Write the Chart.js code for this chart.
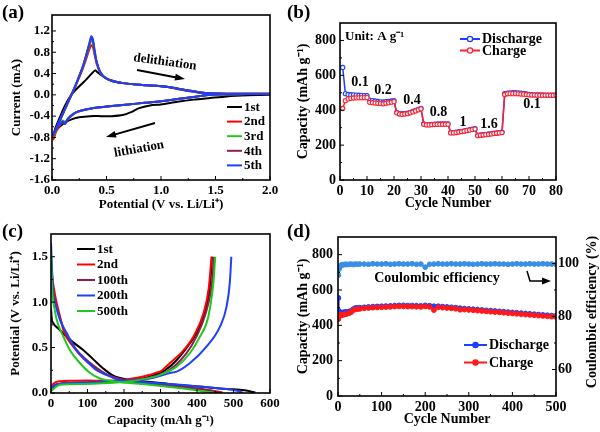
<!DOCTYPE html>
<html><head><meta charset="utf-8">
<script src="https://cdn.jsdelivr.net/npm/chart.js@4.4.1/dist/chart.umd.min.js"></script>
<style>
html,body{margin:0;padding:0;background:#fff;}
#wrap{position:relative;width:600px;height:432px;overflow:hidden;background:#fff;}
#wrap canvas{position:absolute;left:0;top:0;}
.pl{position:absolute;font:bold 19px "Liberation Serif","Times New Roman",serif;color:#000;line-height:20px;}
</style></head><body>
<div id="wrap">
<canvas id="ca" width="600" height="432"></canvas>
<canvas id="cb" width="600" height="432"></canvas>
<canvas id="cc" width="600" height="432"></canvas>
<canvas id="cd" width="600" height="432"></canvas>
<div class="pl" style="left:2px;top:2px">(a)</div>
<div class="pl" style="left:287px;top:2px">(b)</div>
<div class="pl" style="left:2px;top:221px">(c)</div>
<div class="pl" style="left:287px;top:221px">(d)</div>
</div>
<script>
// ---------------- DATA ----------------
// (a) cyclic voltammetry
const cvLabels = ['1st','2nd','3rd','4th','5th'];
const cvPot1 = [0.01,0.04,0.08,0.12,0.17,0.22,0.27,0.32,0.36,0.395,0.42,0.46,0.5,0.55,0.65,0.8,0.95,1.05,1.15,1.25,1.35,1.45,1.6,1.8,2.0,
  1.8,1.6,1.45,1.3,1.15,1.0,0.9,0.8,0.72,0.65,0.55,0.45,0.35,0.25,0.18,0.12,0.08,0.04,0.01];
const cvCur1 = [-0.76,-0.58,-0.38,-0.2,-0.02,0.1,0.2,0.3,0.39,0.46,0.42,0.36,0.31,0.27,0.22,0.19,0.17,0.15,0.11,0.07,0.04,0.02,0.01,0.0,0.0,
  -0.01,-0.03,-0.06,-0.09,-0.13,-0.18,-0.2,-0.25,-0.33,-0.38,-0.4,-0.4,-0.4,-0.42,-0.46,-0.52,-0.58,-0.66,-0.76];
const cvPot = [0.01,0.04,0.08,0.12,0.16,0.2,0.24,0.28,0.31,0.34,0.36,0.375,0.39,0.41,0.44,0.48,0.55,0.65,0.8,0.95,1.05,1.15,1.25,1.35,1.45,1.6,1.8,2.0,
  1.8,1.6,1.45,1.3,1.15,1.0,0.85,0.7,0.55,0.42,0.3,0.22,0.17,0.14,0.12,0.1,0.08,0.05,0.03,0.01];
const cvCur2 = [-0.85,-0.68,-0.46,-0.27,-0.09,0.09,0.28,0.48,0.65,0.84,0.93,0.9,0.76,0.58,0.43,0.33,0.26,0.22,0.19,0.17,0.15,0.12,0.08,0.05,0.03,0.02,0.02,0.02,
  0.015,0.01,0.0,-0.04,-0.08,-0.12,-0.15,-0.18,-0.21,-0.24,-0.28,-0.33,-0.41,-0.47,-0.52,-0.5,-0.55,-0.65,-0.72,-0.85];
const cvCur3 = [-0.8,-0.65,-0.45,-0.27,-0.08,0.1,0.3,0.5,0.7,0.9,1.03,0.98,0.8,0.6,0.43,0.33,0.26,0.22,0.19,0.17,0.15,0.12,0.08,0.05,0.03,0.02,0.02,0.02,
  0.015,0.01,0.0,-0.04,-0.08,-0.12,-0.15,-0.18,-0.21,-0.24,-0.28,-0.33,-0.4,-0.46,-0.52,-0.48,-0.53,-0.62,-0.7,-0.8];
const cvCur4 = [-0.78,-0.63,-0.44,-0.26,-0.08,0.1,0.3,0.51,0.71,0.93,1.07,1.02,0.83,0.61,0.44,0.33,0.26,0.22,0.19,0.17,0.15,0.12,0.08,0.05,0.03,0.02,0.02,0.02,
  0.015,0.01,0.0,-0.04,-0.08,-0.12,-0.15,-0.18,-0.21,-0.24,-0.28,-0.33,-0.4,-0.47,-0.54,-0.5,-0.54,-0.61,-0.68,-0.78];
const cvCur5 = [-0.76,-0.62,-0.43,-0.26,-0.08,0.1,0.3,0.52,0.72,0.95,1.1,1.05,0.85,0.62,0.44,0.33,0.26,0.22,0.19,0.17,0.15,0.12,0.08,0.05,0.03,0.02,0.02,0.02,
  0.015,0.01,0.0,-0.04,-0.08,-0.12,-0.15,-0.18,-0.21,-0.24,-0.28,-0.33,-0.4,-0.47,-0.55,-0.5,-0.53,-0.6,-0.66,-0.76];
const cvTicksX = [0,0.5,1.0,1.5,2.0];
const cvTicksY = [-1.6,-1.2,-0.8,-0.4,0,0.4,0.8,1.2];

// (b) rate performance
const rateCycles = [1,2,3,4,5,6,7,8,9,10,11,12,13,14,15,16,17,18,19,20,21,22,23,24,25,26,27,28,29,30,
  31,32,33,34,35,36,37,38,39,40,41,42,43,44,45,46,47,48,49,50,51,52,53,54,55,56,57,58,59,60,
  61,62,63,64,65,66,67,68,69,70,71,72,73,74,75,76,77,78,79,80];
const rateDischarge = [645,495,490,489,488,487,486,485,484,483, 458,455,453,450,448,447,449,451,453,455,
  388,381,380,381,383,388,393,399,405,411, 322,318,318,319,320,321,322,322,322,322,
  272,272,274,277,279,282,285,288,291,294, 256,258,260,262,264,266,268,270,272,274,
  495,498,500,501,501,500,498,496,493,490, 489,488,488,488,488,487,487,487,487,487];
const rateCharge = [410,455,465,468,470,471,471,472,472,472, 445,443,441,440,438,437,440,443,446,449,
  385,378,377,378,380,385,390,396,402,408, 320,316,316,317,318,319,320,320,320,320,
  270,270,272,275,277,280,283,286,289,292, 254,256,258,260,262,264,266,268,270,272,
  490,494,495,495,495,494,493,492,490,488, 487,487,486,486,486,486,486,486,486,486];
const rateLabels = ['0.1','0.2','0.4','0.8','1','1.6','0.1'];
const rateTicksX = [0,10,20,30,40,50,60,70,80];
const capTicksY = [0,200,400,600,800];

// (c) charge/discharge profiles
const gcLabels = ['1st','2nd','100th','200th','500th'];
const gc1DisCap = [0,2,6,20,40,60,89,116,143,171,207,250,300,360,420,480,530,560];
const gc1DisV   = [0.93,0.82,0.77,0.71,0.63,0.56,0.47,0.37,0.27,0.19,0.15,0.13,0.11,0.085,0.065,0.045,0.03,0.005];
const gc1ChgCap = [0,8,34,90,134,180,226,271,312,344,381,408,426,436,441];
const gc1ChgV   = [0.04,0.08,0.105,0.11,0.115,0.125,0.14,0.18,0.25,0.36,0.55,0.73,0.95,1.2,1.5];
const gc2DisCap = [0,3,8,15,25,34,61,89,116,143,180,220,271,320,363,420,450,470];
const gc2DisV   = [1.45,1.3,1.15,1.0,0.84,0.69,0.51,0.38,0.29,0.22,0.16,0.13,0.107,0.085,0.06,0.035,0.02,0.005];
const gc2ChgCap = [0,6,25,60,100,150,200,240,271,290,299,326,363,390,418,432,440];
const gc2ChgV   = [0.03,0.1,0.13,0.135,0.137,0.135,0.145,0.17,0.2,0.225,0.235,0.33,0.47,0.62,0.88,1.15,1.5];
const gc100DisCap = [0,3,8,15,25,40,65,90,120,150,190,240,290,350,400,440,462];
const gc100DisV   = [1.4,1.22,1.08,0.95,0.82,0.66,0.5,0.39,0.29,0.21,0.155,0.125,0.1,0.075,0.05,0.025,0.005];
const gc100ChgCap = [0,8,30,80,140,200,250,290,320,355,385,412,432,442,446];
const gc100ChgV   = [0.03,0.08,0.105,0.115,0.12,0.13,0.155,0.19,0.24,0.36,0.52,0.74,1.0,1.25,1.5];
const gc200DisCap = [0,3,6,12,25,43,70,98,125,152,189,235,299,363,436,500,525];
const gc200DisV   = [1.65,1.35,1.1,0.98,0.8,0.66,0.47,0.35,0.25,0.2,0.14,0.125,0.107,0.088,0.06,0.033,0.005];
const gc200ChgCap = [0,8,25,90,180,240,271,300,326,344,381,426,463,481,490,494];
const gc200ChgV   = [0.04,0.08,0.1,0.115,0.13,0.145,0.16,0.19,0.22,0.235,0.33,0.51,0.73,0.95,1.22,1.5];
const gc500DisCap = [0,2,5,10,16,34,52,79,107,134,180,230,271,320,363,400,426,445];
const gc500DisV   = [1.55,1.25,1.05,0.92,0.8,0.62,0.47,0.33,0.22,0.16,0.125,0.105,0.09,0.07,0.05,0.03,0.015,0.005];
const gc500ChgCap = [0,8,25,89,180,250,299,344,381,408,431,445,450];
const gc500ChgV   = [0.02,0.05,0.09,0.1,0.115,0.15,0.2,0.29,0.44,0.62,0.84,1.22,1.5];
const gcTicksX = [0,100,200,300,400,500,600];
const gcTicksY = [0,0.5,1.0,1.5];

// (d) long cycling
const longCycles = [1,2,3,4,5,6,8,10,12,15,18,20,25,30,35,40,45,50,
  60,70,80,90,100,110,120,130,140,150,160,170,180,190,200,210,220,230,240,250,
  260,270,280,290,300,310,320,330,340,350,360,370,380,390,400,410,420,430,440,450,
  460,470,480,490,500];
const longDischarge = [555,482,475,472,470,470,470,472,473,474,475,476,478,482,492,498,499,500,
  502,504,506,507,508,509,510,512,513,513,512,512,511,510,513,511,508,508,506,504,
  502,500,497,495,493,491,489,487,485,483,481,479,477,475,473,471,469,467,465,463,
  461,459,457,455,454];
const longCharge = [435,455,458,458,455,456,458,460,460,462,463,465,468,474,486,490,492,493,
  496,498,500,501,502,503,504,506,507,507,506,506,505,504,507,504,486,502,500,498,
  496,494,488,489,487,485,483,481,479,477,475,473,471,469,467,465,463,461,459,457,
  455,453,451,449,447];
const longCE = [95.6,97.8,98.5,98.9,99.0,99.2,99.4,99.5,99.6,99.6,99.7,99.6,99.7,99.8,99.6,99.8,99.7,99.8,
  99.8,99.7,99.9,99.8,99.8,99.9,99.7,99.8,99.9,99.8,99.8,99.9,99.7,99.8,98.6,99.7,99.8,99.9,99.8,99.8,
  99.9,99.8,99.8,99.9,99.8,99.7,99.8,99.9,99.8,99.8,99.9,99.8,99.8,99.7,99.8,99.9,99.8,99.8,99.9,99.8,
  99.8,99.9,99.8,99.8,99.7];
const longTicksX = [0,100,200,300,400,500];
const ceTicksY = [60,80,100];

// ---------------- STYLE / HELPERS ----------------
const FONT = '"Liberation Serif","Times New Roman",serif';
Chart.defaults.font.family = FONT;
Chart.defaults.font.weight = 'bold';
Chart.defaults.color = '#000';
const C_BLACK='#000000', C_RED='#ff0000', C_GREEN='#1ec81e', C_PURP='#8b1f4f', C_BLUE='#1f3fff', C_CE='#3a8ee6';

function axis(o){
  return {
    type:'linear', position:o.pos, min:o.min, max:o.max,
    grid:{display:false, drawTicks:false}, border:{display:false},
    ticks:{padding:o.pad, font:{size:o.fs, weight:'bold', family:FONT}, color:'#000', callback:o.fmt, maxRotation:0, autoSkip:false},
    title:{display:!!o.title, text:o.title||'', font:{size:o.fs, weight:'bold', family:FONT}, color:'#000', padding:o.tpad||{top:4,bottom:4}},
    afterBuildTicks:(sc)=>{ sc.ticks = o.ticks.map(v=>({value:v})); },
    afterFit:(sc)=>{ if(o.w!=null) sc.width=o.w; if(o.h!=null) sc.height=o.h; }
  };
}
function pts(xs, ys){ return xs.map((x,i)=>({x:x, y:ys[i]})); }
function mids(a){ const r=[]; for(let i=0;i<a.length-1;i++) r.push((a[i]+a[i+1])/2); return r; }
function txt(ctx,s,x,y,size,align,rot){
  ctx.save(); ctx.translate(x,y); ctx.rotate((rot||0)*Math.PI/180);
  ctx.font='bold '+size+'px '+FONT; ctx.textAlign=align||'left'; ctx.textBaseline='middle'; ctx.fillStyle='#000';
  ctx.fillText(s,0,0); ctx.restore();
}
function arrowHead(ctx,x1,y1,x2,y2,len,wid){
  const a=Math.atan2(y2-y1,x2-x1);
  ctx.beginPath(); ctx.moveTo(x2,y2);
  ctx.lineTo(x2-len*Math.cos(a)+wid*Math.sin(a), y2-len*Math.sin(a)-wid*Math.cos(a));
  ctx.lineTo(x2-len*Math.cos(a)-wid*Math.sin(a), y2-len*Math.sin(a)+wid*Math.cos(a));
  ctx.closePath(); ctx.fill();
}
function arrow(ctx,x1,y1,x2,y2){
  ctx.save(); ctx.strokeStyle='#000'; ctx.fillStyle='#000'; ctx.lineWidth=2;
  const a=Math.atan2(y2-y1,x2-x1);
  ctx.beginPath(); ctx.moveTo(x1,y1); ctx.lineTo(x2-6*Math.cos(a),y2-6*Math.sin(a)); ctx.stroke();
  arrowHead(ctx,x1,y1,x2,y2,10,3.5); ctx.restore();
}
function legend(ctx,items,x,y,dy,len,size,marker){
  items.forEach((it,i)=>{
    const yy=y+i*dy;
    ctx.save(); ctx.strokeStyle=it.color; ctx.lineWidth=2;
    ctx.beginPath(); ctx.moveTo(x,yy); ctx.lineTo(x+len,yy); ctx.stroke();
    if(marker){ ctx.beginPath(); ctx.arc(x+len/2,yy,2.6,0,Math.PI*2); ctx.fillStyle=marker==='open'?'#fff':it.color; ctx.fill(); ctx.lineWidth=1.3; ctx.stroke(); }
    ctx.restore();
    txt(ctx,it.label,x+len+2,yy+0.5,size,'left');
  });
}
function deco(spec){
  return { id:'deco', afterDatasetsDraw(chart){
    const ctx=chart.ctx, a=chart.chartArea;
    ctx.save(); ctx.strokeStyle='#000'; ctx.lineWidth=1;
    spec.ticks.forEach(t=>{
      const s=chart.scales[t.id];
      const draw=(v,len)=>{
        const p=s.getPixelForValue(v);
        ctx.beginPath();
        if(t.side==='bottom'){ ctx.moveTo(p,a.bottom); ctx.lineTo(p,a.bottom-len); }
        else if(t.side==='left'){ ctx.moveTo(a.left,p); ctx.lineTo(a.left+len,p); }
        else { ctx.moveTo(a.right,p); ctx.lineTo(a.right-len,p); }
        ctx.stroke();
      };
      t.major.forEach(v=>draw(v,4));
      mids(t.major).forEach(v=>draw(v,2));
    });
    ctx.lineWidth=1.6; ctx.strokeRect(a.left,a.top,a.right-a.left,a.bottom-a.top);
    ctx.restore();
    if(spec.draw) spec.draw(ctx,chart);
  }};
}
const baseOpts = (pad)=>({responsive:false, animation:false, events:[], layout:{padding:pad},
  plugins:{legend:{display:false}, tooltip:{enabled:false}}});

// ---------------- (a) ----------------
(function(){
  const series=[[cvPot1,cvCur1,C_BLACK],[cvPot,cvCur2,C_RED],[cvPot,cvCur3,C_GREEN],[cvPot,cvCur4,C_PURP],[cvPot,cvCur5,C_BLUE]];
  const o=baseOpts({left:0,top:15,right:330,bottom:216});
  o.scales={
    x:axis({pos:'bottom',min:0,max:2,ticks:cvTicksX,fmt:v=>v.toFixed(1),fs:13,pad:3,h:36,title:'Potential (V vs. Li/Li\u207A)'}),
    y:axis({pos:'left',min:-1.6,max:1.5,ticks:cvTicksY,fmt:v=>v.toFixed(1),fs:13,pad:2,w:52,title:'Current (mA)',tpad:{top:9,bottom:4}})
  };
  new Chart(document.getElementById('ca'),{type:'scatter',
    data:{datasets:series.map((s,i)=>({label:cvLabels[i],data:pts(s[0],s[1]),showLine:true,pointRadius:0,borderColor:s[2],borderWidth:2,tension:0.25,order:4-i}))},
    options:o,
    plugins:[deco({ticks:[{id:'x',side:'bottom',major:cvTicksX},{id:'y',side:'left',major:cvTicksY}],
      draw:(ctx)=>{
        txt(ctx,'delithiation',165,62,13,'center',8);
        arrow(ctx,137,70,185,79);
        txt(ctx,'lithiation',139,149,13,'center',-10);
        arrow(ctx,155,123,106,137);
        legend(ctx,series.map((s,i)=>({label:cvLabels[i],color:s[2]})),227,107,14.6,15,13);
      }})]
  });
})();

// ---------------- (b) ----------------
(function(){
  const o=baseOpts({left:300,top:23,right:44,bottom:216});
  o.scales={
    x:axis({pos:'bottom',min:0,max:80,ticks:rateTicksX,fmt:v=>String(v),fs:14,pad:3,h:36,title:'Cycle Number'}),
    y:axis({pos:'left',min:0,max:900,ticks:capTicksY,fmt:v=>String(v),fs:14,pad:4,w:40,title:'Capacity (mAh g\u207B\u00B9)',tpad:{top:-5,bottom:4}})
  };
  const ds=(label,vals,color,order)=>({label:label,data:pts(rateCycles,vals),showLine:true,borderColor:color,borderWidth:1.5,
    pointRadius:2.1,pointBorderWidth:1.1,pointBackgroundColor:'#fff',pointBorderColor:color,tension:0,order:order});
  const ratePos=[[7.4,560],[15.9,514],[26.7,457],[36.5,389],[45.6,331],[55.2,320],[71.1,434]];
  new Chart(document.getElementById('cb'),{type:'scatter',
    data:{datasets:[ds('Discharge',rateDischarge,C_BLUE,1),ds('Charge',rateCharge,'#ff2030',0)]},
    options:o,
    plugins:[deco({ticks:[{id:'x',side:'bottom',major:rateTicksX},{id:'y',side:'left',major:capTicksY}],
      draw:(ctx,chart)=>{
        const sx=chart.scales.x, sy=chart.scales.y;
        txt(ctx,'Unit: A g\u207B\u00B9',345,37,13,'left');
        rateLabels.forEach((l,i)=>txt(ctx,l,sx.getPixelForValue(ratePos[i][0]),sy.getPixelForValue(ratePos[i][1]),14,'center'));
        legend(ctx,[{label:'Discharge',color:C_BLUE},{label:'Charge',color:'#ff2030'}],460,39,11.5,20,14,'open');
      }})]
  });
})();

// ---------------- (c) ----------------
(function(){
  const cyc=[[gc1DisCap,gc1DisV,gc1ChgCap,gc1ChgV,C_BLACK],[gc2DisCap,gc2DisV,gc2ChgCap,gc2ChgV,C_RED],
    [gc100DisCap,gc100DisV,gc100ChgCap,gc100ChgV,C_PURP],[gc200DisCap,gc200DisV,gc200ChgCap,gc200ChgV,C_BLUE],
    [gc500DisCap,gc500DisV,gc500ChgCap,gc500ChgV,C_GREEN]];
  const dsets=[];
  cyc.forEach((c,i)=>{
    const common={showLine:true,pointRadius:0,borderColor:c[4],borderWidth:2,cubicInterpolationMode:'monotone',order:4-i};
    dsets.push(Object.assign({label:gcLabels[i]+' discharge',data:pts(c[0],c[1])},common));
    dsets.push(Object.assign({label:gcLabels[i]+' charge',data:pts(c[2],c[3])},common));
  });
  const o=baseOpts({left:0,top:234,right:330,bottom:0});
  o.scales={
    x:axis({pos:'bottom',min:0,max:600,ticks:gcTicksX,fmt:v=>String(v),fs:13,pad:3,h:39,title:'Capacity (mAh g\u207B\u00B9)'}),
    y:axis({pos:'left',min:0,max:1.75,ticks:gcTicksY,fmt:v=>v.toFixed(1),fs:13,pad:3,w:51,title:'Potential (V vs. Li/Li\u207A)',tpad:{top:8,bottom:4}})
  };
  new Chart(document.getElementById('cc'),{type:'scatter',data:{datasets:dsets},options:o,
    plugins:[deco({ticks:[{id:'x',side:'bottom',major:gcTicksX},{id:'y',side:'left',major:gcTicksY}],
      draw:(ctx)=>{ legend(ctx,cyc.map((c,i)=>({label:gcLabels[i],color:c[4]})),77,249,15.5,18,13); }})]
  });
})();

// ---------------- (d) ----------------
(function(){
  const o=baseOpts({left:300,top:237,right:0,bottom:0});
  o.scales={
    x:axis({pos:'bottom',min:0,max:500,ticks:longTicksX,fmt:v=>String(v),fs:14,pad:3,h:36,title:'Cycle Number'}),
    y:axis({pos:'left',min:0,max:900,ticks:capTicksY,fmt:v=>String(v),fs:14,pad:5,w:38,title:'Capacity (mAh g\u207B\u00B9)',tpad:{top:-5,bottom:4}}),
    y2:axis({pos:'right',min:50,max:110,ticks:ceTicksY,fmt:v=>String(v),fs:14,pad:2,w:44})
  };
  const ds=(label,vals,color,axisId,order)=>({label:label,data:pts(longCycles,vals),yAxisID:axisId,showLine:true,borderColor:color,borderWidth:1.5,
    pointRadius:2.4,pointBorderWidth:1,pointBackgroundColor:color,pointBorderColor:color,tension:0,order:order});
  new Chart(document.getElementById('cd'),{type:'scatter',
    data:{datasets:[ds('Discharge',longDischarge,C_BLUE,'y',1),ds('Charge',longCharge,'#ff1a1a','y',0),ds('Coulombic efficiency',longCE,C_CE,'y2',2)]},
    options:o,
    plugins:[deco({ticks:[{id:'x',side:'bottom',major:longTicksX},{id:'y',side:'left',major:capTicksY},{id:'y2',side:'right',major:ceTicksY}],
      draw:(ctx)=>{
        txt(ctx,'Coulombic efficiency',437,278,14,'center');
        ctx.save(); ctx.strokeStyle='#000'; ctx.fillStyle='#000'; ctx.lineWidth=1.5;
        ctx.beginPath(); ctx.moveTo(527,271); ctx.lineTo(530,281); ctx.lineTo(544,281); ctx.stroke();
        arrowHead(ctx,530,281,551,281,9,3.5); ctx.restore();
        txt(ctx,'Coulombic efficiency (%)',592,312,14,'center',-90);
        legend(ctx,[{label:'Discharge',color:C_BLUE},{label:'Charge',color:'#ff1a1a'}],464,345,17.5,23,14,'filled');
      }})]
  });
})();
</script>
</body></html>
